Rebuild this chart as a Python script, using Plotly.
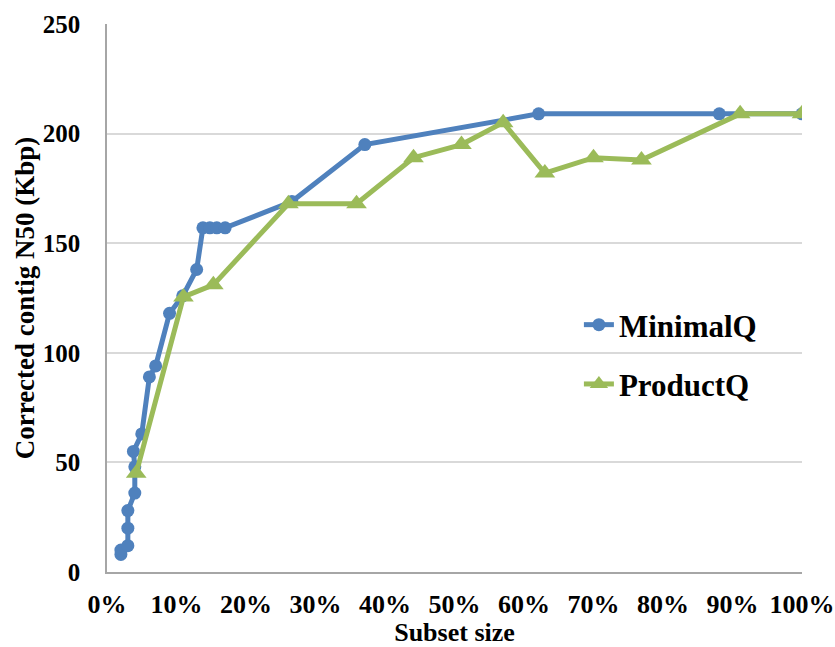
import plotly.graph_objects as go

# Subset size (fraction) and corrected contig N50 (Kbp)
minimal_x = [0.02, 0.02, 0.03, 0.03, 0.03, 0.04, 0.04, 0.038, 0.05, 0.061, 0.07,
             0.09, 0.109, 0.129, 0.138, 0.148, 0.158, 0.17, 0.266, 0.371, 0.621,
             0.881, 1.0]
minimal_y = [8, 10, 12, 20, 28, 36, 48, 55, 63, 89, 94,
             118, 126, 138, 157, 157, 157, 157, 169, 195, 209,
             209, 209]

product_x = [0.042, 0.11, 0.153, 0.261, 0.359, 0.441, 0.51, 0.57, 0.63,
             0.70, 0.769, 0.911, 1.0]
product_y = [45, 125.5, 131, 168, 168, 189, 195, 205, 182,
             189, 188, 209, 209]

blue = "#4F81BD"
green = "#9BBB59"
font = "Liberation Serif"

fig = go.Figure()
fig.add_trace(go.Scatter(
    x=minimal_x, y=minimal_y, name="<b>MinimalQ</b>", legendgroup="a",
    mode="lines+markers",
    line=dict(color=blue, width=5),
    marker=dict(color=blue, size=13, symbol="circle"),
))
fig.add_trace(go.Scatter(
    x=product_x, y=product_y, name="<b>ProductQ</b>", legendgroup="b",
    mode="lines+markers",
    line=dict(color=green, width=5),
    marker=dict(color=green, size=18, symbol="triangle-up"),
))

fig.update_layout(
    width=835, height=647,
    margin=dict(l=107, r=33, t=24, b=75),
    plot_bgcolor="white", paper_bgcolor="white",
    font=dict(family=font, size=24, color="black"),
    legend=dict(x=0.679, y=0.50, xanchor="left", yanchor="top",
                font=dict(family=font, size=31, color="black"),
                tracegroupgap=16, bgcolor="rgba(0,0,0,0)"),
    xaxis=dict(
        range=[0, 1], tickvals=[i / 10 for i in range(11)],
        tickformat=".0%", showgrid=False, zeroline=False, automargin=False,
        showline=True, linecolor="#a6a6a6", linewidth=1.5,
        ticklabelstandoff=8, ticklabeloverflow="allow",
        tickfont=dict(family=font, size=26, color="black", weight="bold"),
        title=dict(text="<b>Subset size</b>", standoff=6,
                   font=dict(family=font, size=26, color="black")),
    ),
    yaxis=dict(
        range=[0, 250], tickvals=[0, 50, 100, 150, 200, 250],
        showgrid=True, gridcolor="#d9d9d9", gridwidth=1.5, zeroline=False,
        automargin=False,
        showline=True, linecolor="#a6a6a6", linewidth=1.5,
        ticklabelstandoff=20,
        tickfont=dict(family=font, size=25, color="black", weight="bold"),
        title=dict(text="<b>Corrected contig N50 (Kbp)</b>", standoff=0,
                   font=dict(family=font, size=27, color="black")),
    ),
)

# drop the default 8px body margin so the figure sits at the window corner
fig.write_html("out.html", config={"displayModeBar": False},
               post_script="document.body.style.margin='0';")
